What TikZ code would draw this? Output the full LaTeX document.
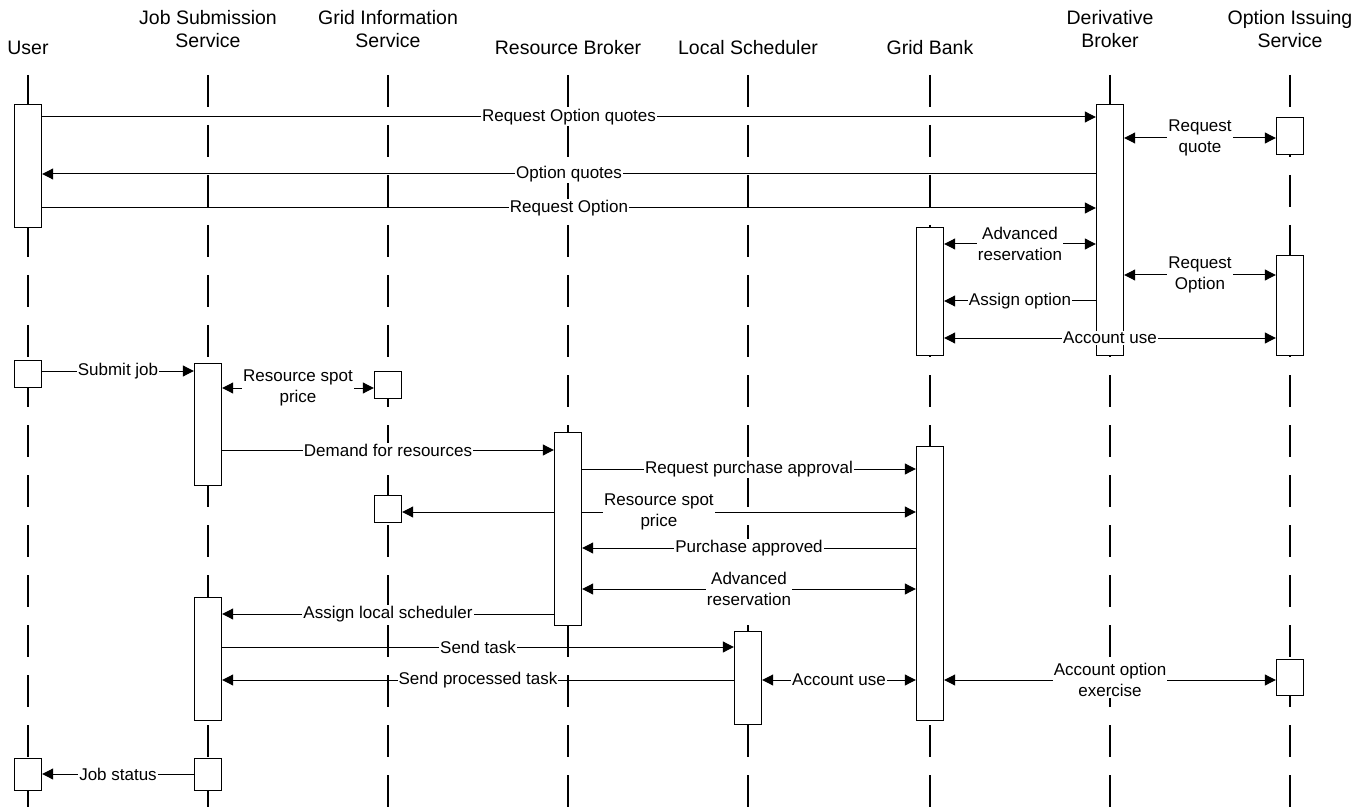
\documentclass[tikz,border=0pt]{standalone}
\usepackage{fontspec}
\setmainfont{Liberation Sans}
\usetikzlibrary{arrows.meta,calc}

\tikzset{
  actor/.style={align=center, font=\fontsize{19.5}{23}\selectfont},
  lifeline/.style={line width=1.5pt, dash pattern=on 32pt off 18pt},
  activation/.style={draw, line width=1.4pt, fill=white, minimum width=27pt, inner sep=0pt, anchor=north},
  msg/.style={line width=1pt, -{Triangle[length=11pt,width=11pt]}},
  bimsg/.style={line width=1pt, {Triangle[length=11pt,width=11pt]}-{Triangle[length=11pt,width=11pt]}},
  lbl/.style={fill=white, inner sep=1pt, align=center, font=\fontsize{17}{21}\selectfont}
}

\begin{document}
\begin{tikzpicture}[x=1pt, y=-1pt]
  \useasboundingbox (0,0) rectangle (1368,810);

  % participants
  \node[actor] (usr) at (28,48) {User};
  \node[actor] (jss) at (208,29) {Job Submission\\Service};
  \node[actor] (gis) at (388,29) {Grid Information\\Service};
  \node[actor] (rbk) at (568,48) {Resource Broker};
  \node[actor] (lsc) at (748,48) {Local Scheduler};
  \node[actor] (gbk) at (930,48) {Grid Bank};
  \node[actor] (dbk) at (1110,29) {Derivative\\Broker};
  \node[actor] (ois) at (1290,29) {Option Issuing\\Service};

  % lifelines
  \foreach \n in {usr,jss,gis,rbk,lsc,gbk,dbk,ois}
    \draw[lifeline] (\n |- 0,75) -- (\n |- 0,810);

  % activation boxes
  \foreach \n/\x/\t/\b in {ua1/28/104/227, da/1110/104/355, oa1/1290/117/154,
      ga1/930/227/355, oa2/1290/255/355, ua2/28/360/387, ja1/208/363/485,
      ia1/388/371/398, ra/568/432/625, ga2/930/446/720, ia2/388/495/522,
      ja2/208/597/720, la/748/631/724, oa3/1290/659/695, ua3/28/758/790,
      ja3/208/758/790}
    \node[activation, minimum height={(\b-\t)*1pt}] (\n) at (\x,\t) {};

  % option purchase
  \draw[msg] (ua1.east |- 0,117) -- node[lbl] {Request Option quotes} (da.west |- 0,117);
  \draw[bimsg] (da.east |- 0,138) -- node[lbl] {Request\\quote} (oa1.west |- 0,138);
  \draw[msg] (da.west |- 0,174) -- node[lbl] {Option quotes} (ua1.east |- 0,174);
  \draw[msg] (ua1.east |- 0,208) -- node[lbl] {Request Option} (da.west |- 0,208);
  \draw[bimsg] (ga1.east |- 0,244) -- node[lbl] {Advanced\\reservation} (da.west |- 0,244);
  \draw[bimsg] (da.east |- 0,275) -- node[lbl] {Request\\Option} (oa2.west |- 0,275);
  \draw[msg] (da.west |- 0,301) -- node[lbl] {Assign option} (ga1.east |- 0,301);
  \draw[bimsg] (ga1.east |- 0,338) -- node[lbl] {Account use} (oa2.west |- 0,338);

  % job execution
  \draw[msg] (ua2.east |- 0,371) -- node[lbl] {Submit job} (ja1.west |- 0,371);
  \draw[bimsg] (ja1.east |- 0,388) -- node[lbl] {Resource spot\\price} (ia1.west |- 0,388);
  \draw[msg] (ja1.east |- 0,450) -- node[lbl] {Demand for resources} (ra.west |- 0,450);
  \draw[msg] (ra.east |- 0,469) -- node[lbl] {Request purchase approval} (ga2.west |- 0,469);
  \draw[msg] (ra.west |- 0,512) -- (ia2.east |- 0,512);
  \draw[msg] (ra.east |- 0,512) -- node[lbl, pos=0.23] {Resource spot\\price} (ga2.west |- 0,512);
  \draw[msg] (ga2.west |- 0,548) -- node[lbl] {Purchase approved} (ra.east |- 0,548);
  \draw[bimsg] (ra.east |- 0,589) -- node[lbl] {Advanced\\reservation} (ga2.west |- 0,589);
  \draw[msg] (ra.west |- 0,614) -- node[lbl] {Assign local scheduler} (ja2.east |- 0,614);
  \draw[msg] (ja2.east |- 0,647) -- node[lbl] {Send task} (la.west |- 0,647);
  \draw[msg] (la.west |- 0,680) -- node[lbl] {Send processed task} (ja2.east |- 0,680);
  \draw[bimsg] (la.east |- 0,680) -- node[lbl] {Account use} (ga2.west |- 0,680);
  \draw[bimsg] (ga2.east |- 0,680) -- node[lbl] {Account option\\exercise} (oa3.west |- 0,680);
  \draw[msg] (ja3.west |- 0,774) -- node[lbl] {Job status} (ua3.east |- 0,774);
\end{tikzpicture}
\end{document}
